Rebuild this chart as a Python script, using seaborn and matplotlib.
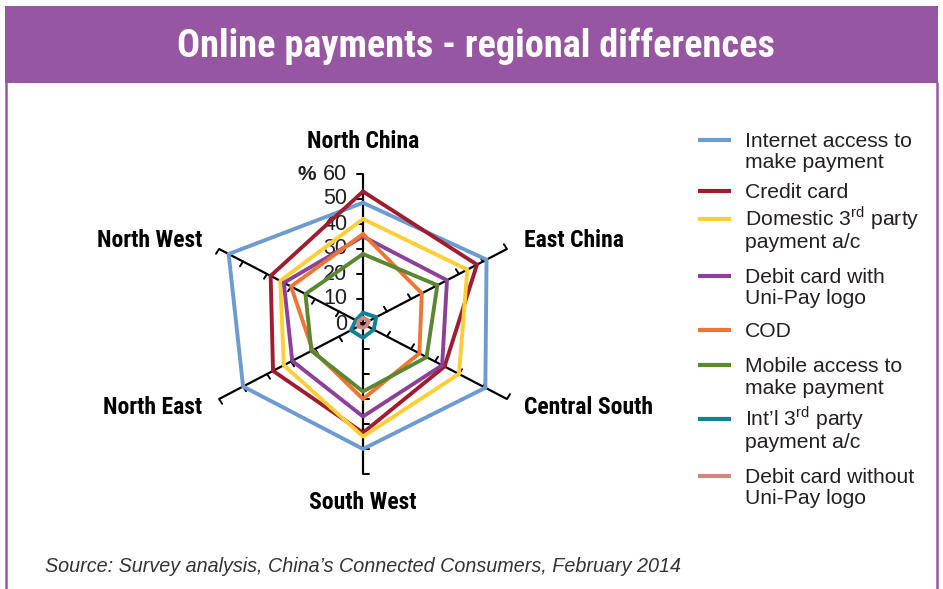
import numpy as np
import pandas as pd
import matplotlib.pyplot as plt
import seaborn as sns
from matplotlib.patches import Rectangle

# --- data (% of respondents) ---
regions = ["North China", "East China", "Central South", "South West", "North East", "North West"]
series_names = [
    "Internet access to\nmake payment",
    "Credit card",
    "Domestic 3$^{\\mathrm{rd}}$ party\npayment a/c",
    "Debit card with\nUni-Pay logo",
    "COD",
    "Mobile access to\nmake payment",
    "Int\u2019l 3$^{\\mathrm{rd}}$ party\npayment a/c",
    "Debit card without\nUni-Pay logo",
]
internet_access = [48.5, 51.5, 51, 50, 50, 56]
credit_card = [53, 47.5, 34, 43.5, 37.5, 38.5]
domestic_3rd = [42, 43.5, 40, 45, 33, 34.5]
debit_unipay = [35, 35, 33, 37, 29.5, 33]
cod = [36, 24.5, 23.5, 30, 21, 30]
mobile_access = [28, 31, 26.5, 27, 21.5, 24]
intl_3rd = [4.5, 5.5, 4.5, 5.5, 5, 3]
debit_no_unipay = [2.5, 2.5, 1.5, 1.5, 2, 2]
values = [internet_access, credit_card, domestic_3rd, debit_unipay,
          cod, mobile_access, intl_3rd, debit_no_unipay]
colors = ["#6b9bd1", "#a01c2e", "#ffcd34", "#8c409a",
          "#ee7532", "#5b8731", "#0a8494", "#cf8780"]
r_ticks = [0, 10, 20, 30, 40, 50, 60]

purple = "#9656a2"
txt = "#231f20"

# spokes go clockwise from the top
angles = np.deg2rad(90 - 60 * np.arange(len(regions)))

# long table for seaborn, polygons closed by repeating the first region
rows = []
for name, vals in zip(series_names, values):
    for k in range(len(regions) + 1):
        i = k % len(regions)
        rows.append({"series": name, "order": k,
                     "x": vals[i] * np.cos(angles[i]),
                     "y": vals[i] * np.sin(angles[i])})
df = pd.DataFrame(rows)

sns.set_theme(style="white")
plt.rcParams["font.family"] = ["Liberation Sans", "DejaVu Sans"]
plt.rcParams["mathtext.fontset"] = "custom"
plt.rcParams["mathtext.rm"] = "Liberation Sans"
narrow = ["Liberation Sans Narrow", "Roboto Condensed", "Liberation Sans", "DejaVu Sans"]

W, H = 943, 589
fig = plt.figure(figsize=(W / 100, H / 100), dpi=100)

# background layer in pixel units: frame, title band, legend, source
bg = fig.add_axes([0, 0, 1, 1])
bg.set_xlim(0, W)
bg.set_ylim(H, 0)
bg.axis("off")
bg.add_patch(Rectangle((5, 6), 933, 77, facecolor=purple, edgecolor="none"))
bg.plot([6, 6], [83, H], color=purple, lw=1.8)
bg.plot([937, 937], [83, H], color=purple, lw=1.8)
bg.text(476, 46, "Online payments - regional differences", color="white",
        fontsize=27.5, fontweight="bold", family=narrow, ha="center", va="center")
bg.text(45, 566, "Source: Survey analysis, China\u2019s Connected Consumers, February 2014",
        fontsize=14.2, style="italic", color="#333333", ha="left", va="center")

# legend drawn by hand so the swatch sits on the first text line
leg_y = [140, 191, 219, 276, 330, 365, 419, 476]
for name, col, y0 in zip(series_names, colors, leg_y):
    bg.plot([698, 731], [y0, y0], color=col, lw=3, solid_capstyle="butt")
    for j, line in enumerate(name.split("\n")):
        bg.text(745, y0 + 7 + j * 21.5, line, fontsize=15.2, color=txt,
                ha="left", va="baseline")

# radar on cartesian axes (the reference is stretched horizontally)
ax = fig.add_axes([163 / W, (H - 499) / H, 400 / W, 350 / H])
ax.patch.set_alpha(0)
ax.set_xlim(-72.2, 72.2)
ax.set_ylim(-70, 70)
ax.axis("off")

rmax = r_ticks[-1]
for a in angles:
    ax.plot([0, rmax * np.cos(a)], [0, rmax * np.sin(a)], color="black", lw=1.6,
            solid_capstyle="butt", zorder=1)
    pa = a + np.pi / 2
    for v in r_ticks[1:]:
        bx, by = v * np.cos(a), v * np.sin(a)
        ax.plot([bx, bx + 2.2 * np.cos(pa)], [by, by + 2.2 * np.sin(pa)],
                color="black", lw=1.4, zorder=1)

sns.lineplot(data=df, x="x", y="y", hue="series", units="series",
             estimator=None, sort=False, hue_order=series_names,
             palette=colors, lw=2.8, legend=False, ax=ax, zorder=3)

for v in r_ticks:
    ax.text(-5.6, v, str(v), ha="right", va="center", fontsize=15.5, color=txt, zorder=2)
ax.text(-17, rmax, "%", ha="right", va="center", fontsize=15, fontweight="bold",
        color=txt)

lab_r = [73, 67, 67, 71.5, 67, 67]
lab_ha = ["center", "left", "left", "center", "right", "right"]
for name, a, r, ha in zip(regions, angles, lab_r, lab_ha):
    ax.text(r * np.cos(a), r * np.sin(a), name, ha=ha, va="center",
            fontsize=17, fontweight="bold", family=narrow, color="black")

fig.savefig("out.png", dpi=100)
